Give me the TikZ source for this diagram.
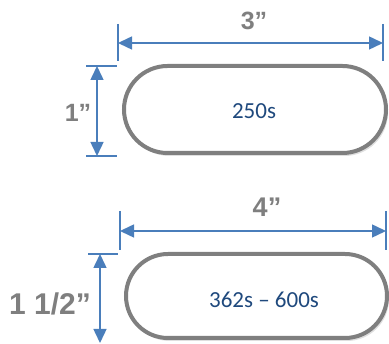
\documentclass[tikz,border=0pt]{standalone}
\usepackage{fontspec}
\setmainfont{Carlito}
\newfontfamily\dimfont{Liberation Sans}
\usetikzlibrary{arrows.meta,shapes.misc,shadows}
\definecolor{dimblue}{HTML}{4A7EBB}
\definecolor{dimgray}{HTML}{7F7F7F}
\definecolor{textblue}{HTML}{1F497D}
\tikzset{
  slot/.style={rounded rectangle, draw=dimgray, line width=4pt, fill=white, inner sep=0pt,
    drop shadow={shadow xshift=2pt, shadow yshift=-3pt, opacity=0.25}},
  dimline/.style={draw=dimblue, line width=1.5pt, {Triangle[length=14pt,width=13pt]}-{Triangle[length=14pt,width=13pt]}},
  tickline/.style={draw=dimblue, line width=1.5pt},
  dimlabel/.style={text=dimgray, font=\dimfont\bfseries\fontsize{25}{25}\selectfont},
  sizelabel/.style={text=textblue, font=\fontsize{23}{23}\selectfont}
}
\begin{document}
\begin{tikzpicture}[x=1pt,y=-1pt]
		\clip (0,0) rectangle (389,344);
		% slots
		\node[slot, minimum width=262pt, minimum height=87pt] (small) at (255,109.5) {};
		\node[sizelabel] (smalltext) at (254,111) {250s};
		\node[slot, minimum width=261pt, minimum height=84pt] (large) at (256.5,296) {};
		\node[sizelabel] (largetext) at (264,300) {362s -- 600s};
		% dimension ends
		\coordinate (w3l) at (118,43);
		\coordinate (w3r) at (383,43);
		\coordinate (h1t) at (97,66);
		\coordinate (h1b) at (97,156);
		\coordinate (w4l) at (120,231);
		\coordinate (w4r) at (386,231);
		\coordinate (h15t) at (100,254);
		\coordinate (h15b) at (100,343);
		% ticks
		\draw[tickline] ([yshift=19pt]w3l) -- ([yshift=-18pt]w3l);
		\draw[tickline] ([yshift=19pt]w3r) -- ([yshift=-18pt]w3r);
		\draw[tickline] ([xshift=-11pt]h1t) -- ([xshift=20pt]h1t);
		\draw[tickline] ([xshift=-11pt]h1b) -- ([xshift=20pt]h1b);
		\draw[tickline] ([yshift=20pt]w4l) -- ([yshift=-19pt]w4l);
		\draw[tickline] ([yshift=20pt]w4r) -- ([yshift=-19pt]w4r);
		\draw[tickline] ([xshift=-12pt]h15t) -- ([xshift=18pt]h15t);
		% arrows
		\draw[dimline] (w3l) -- (w3r);
		\draw[dimline] (h1t) -- (h1b);
		\draw[dimline] (w4l) -- (w4r);
		\draw[dimline] (h15t) -- (h15b);
		% labels
		\node[dimlabel] (w3) at (254,21) {3”};
		\node[dimlabel] (h1) at (78,113) {1”};
		\node[dimlabel, font=\dimfont\bfseries\fontsize{27}{27}\selectfont] (w4) at (267,207) {4”};
		\node[dimlabel, font=\dimfont\bfseries\fontsize{30}{30}\selectfont] (h15) at (50,304) {1 1/2”};
\end{tikzpicture}
\end{document}
